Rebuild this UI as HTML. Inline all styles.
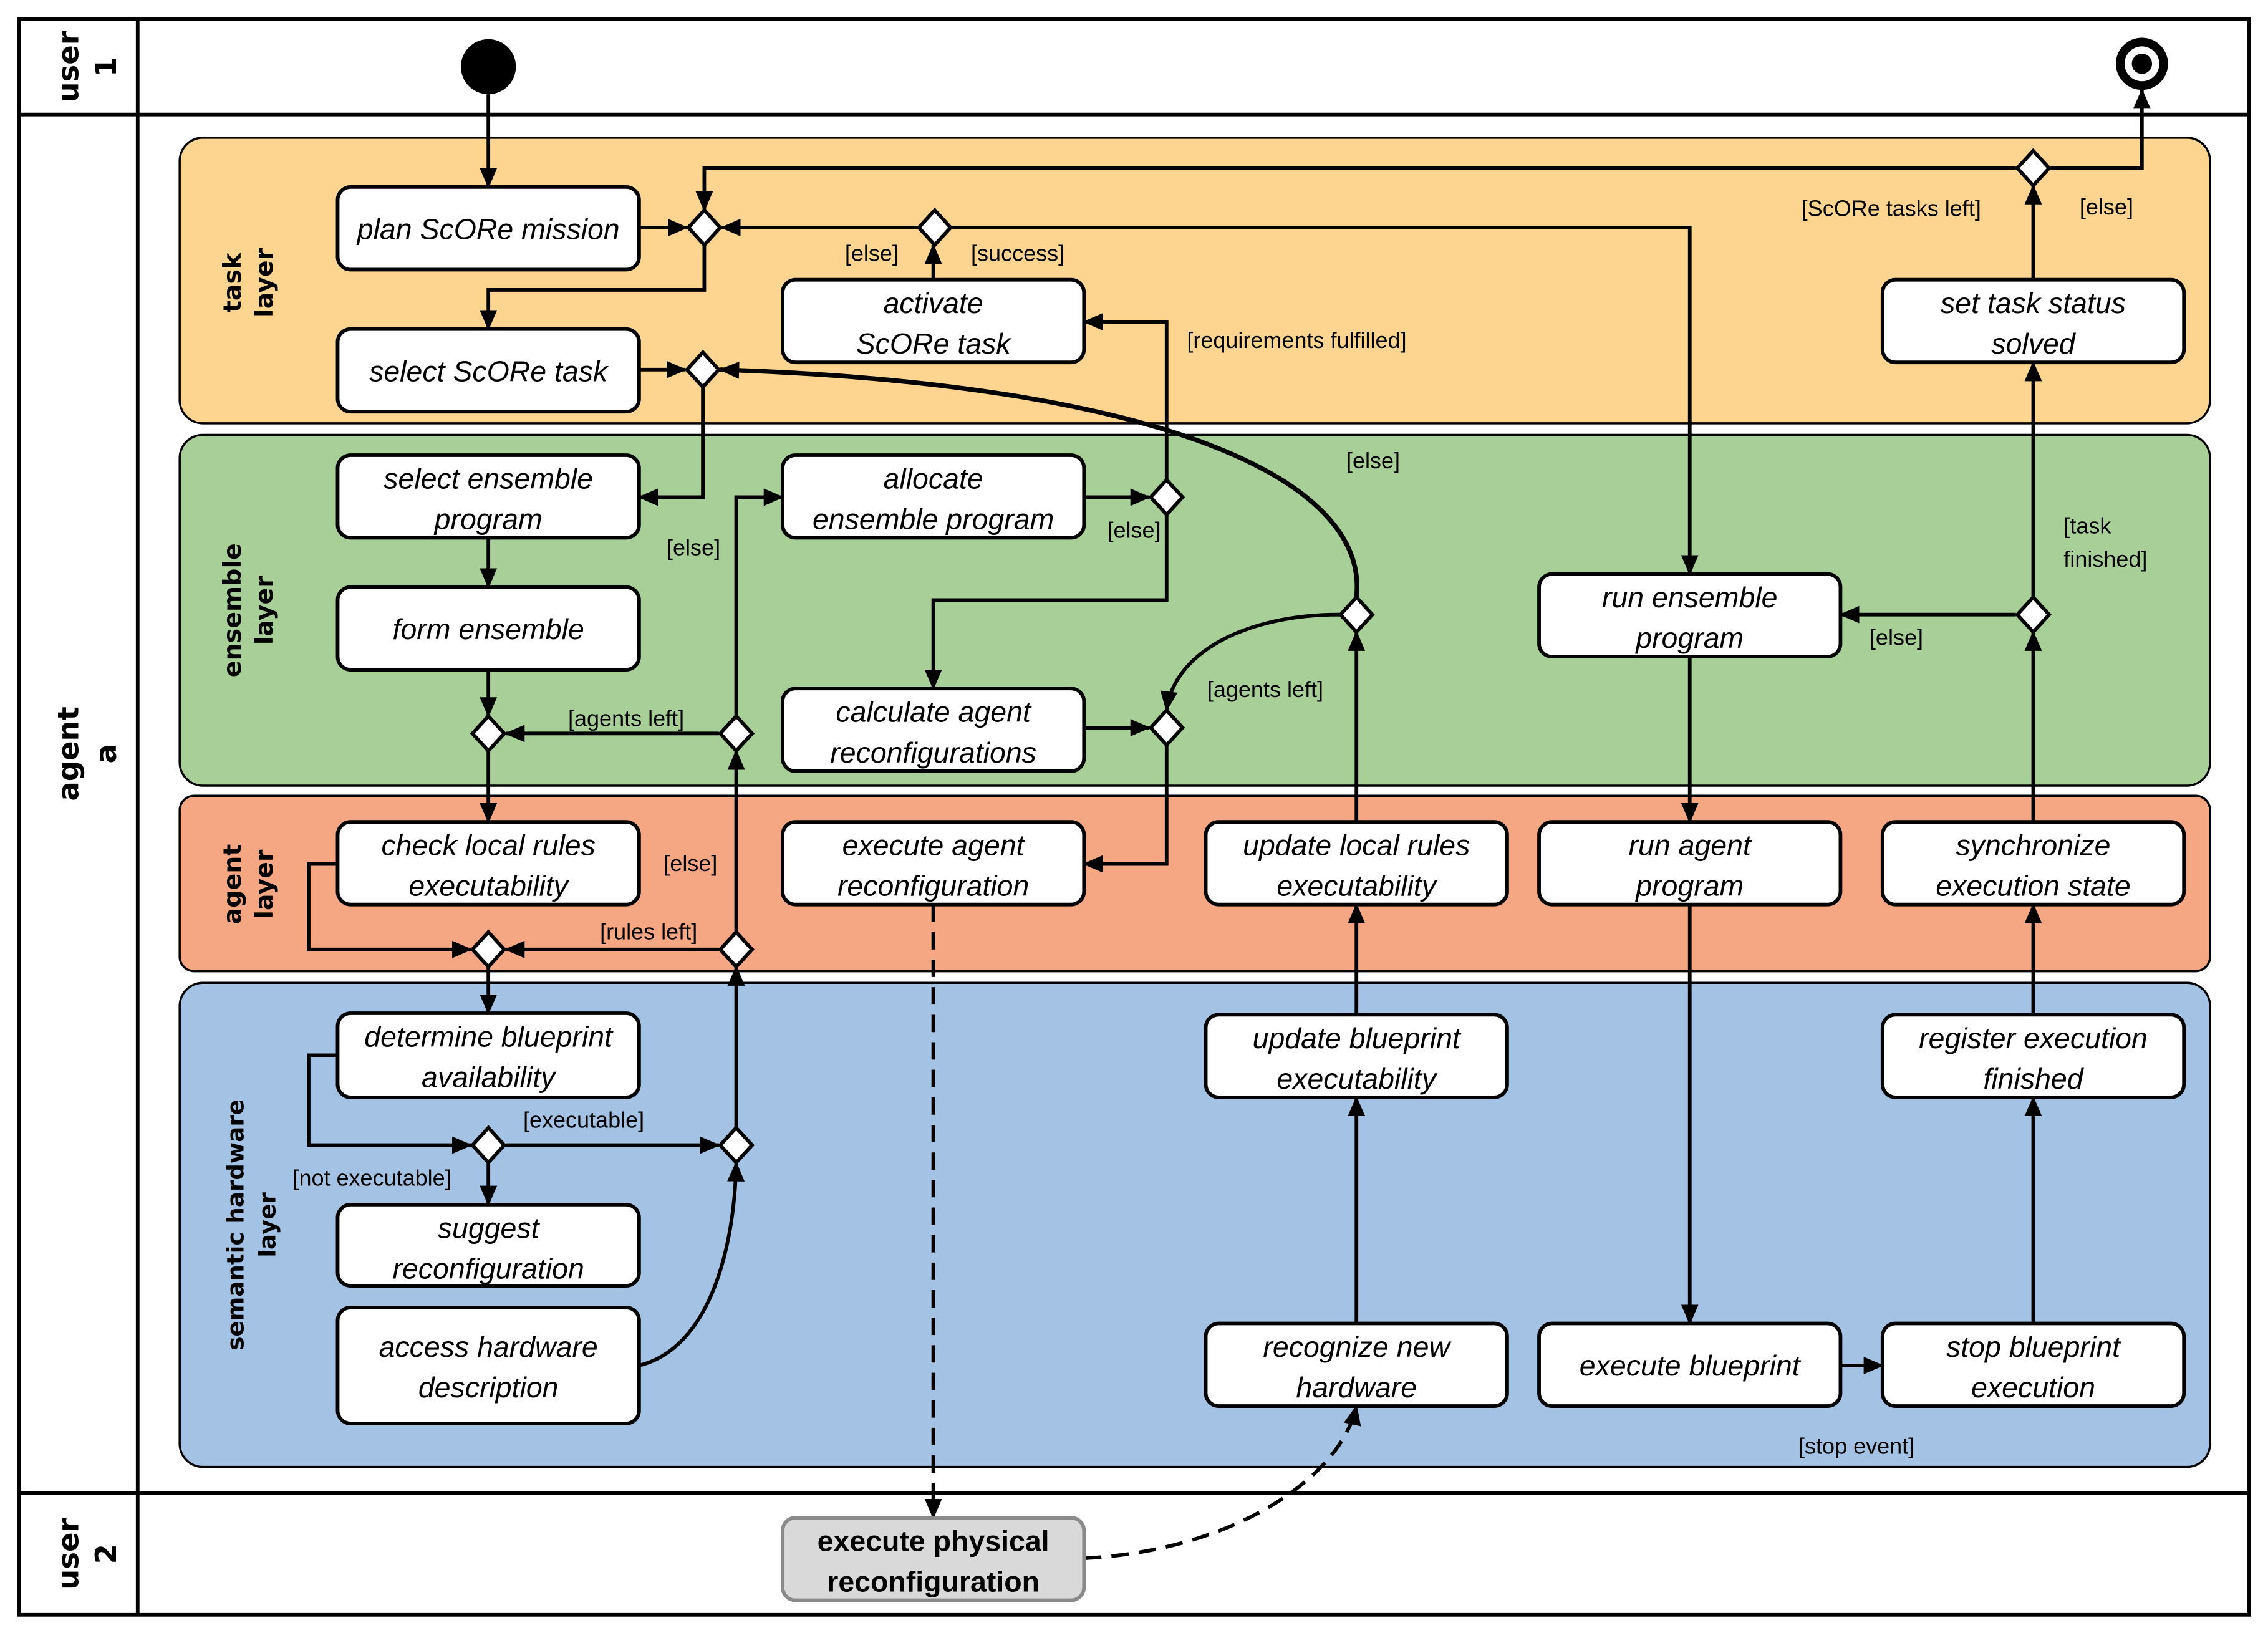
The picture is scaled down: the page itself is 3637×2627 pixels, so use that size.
<!DOCTYPE html>
<html><head><meta charset="utf-8"><style>
html,body{margin:0;padding:0;background:#fff}
svg{display:block}
.n{fill:#fff;stroke:#000;stroke-width:2.5}
.t{font-family:"Liberation Sans",sans-serif;font-style:italic;font-size:20px;text-anchor:middle}
.l{font-family:"Liberation Sans",sans-serif;font-size:15.5px}
.e{fill:none;stroke:#000;stroke-width:2.5;marker-end:url(#a)}
.d{fill:#fff;stroke:#000;stroke-width:2.5}
.h{font-family:"DejaVu Sans","Liberation Sans",sans-serif;font-weight:bold;font-size:20px;text-anchor:middle}
.y{font-family:"DejaVu Sans","Liberation Sans",sans-serif;font-weight:bold;font-size:17px;text-anchor:middle}
</style></head><body>
<svg width="3637" height="2627" viewBox="0 0 1565 1130" preserveAspectRatio="none" xmlns="http://www.w3.org/2000/svg">
<defs><marker id="a" markerUnits="userSpaceOnUse" markerWidth="14" markerHeight="12" refX="13" refY="6" orient="auto"><path d="M0,0 L14,6 L0,12 z" fill="#000"/></marker></defs>
<rect x="0" y="0" width="1565" height="1130" fill="#fff"/>
<rect x="13" y="13" width="1539" height="1101" fill="none" stroke="#000" stroke-width="2.5"/>
<line x1="95" y1="13" x2="95" y2="1114" stroke="#000" stroke-width="2.5"/>
<line x1="13" y1="79" x2="1552" y2="79" stroke="#000" stroke-width="2.5"/>
<line x1="13" y1="1030" x2="1552" y2="1030" stroke="#000" stroke-width="2.5"/>
<g transform="translate(54,46) rotate(-90)"><text class="h" x="0" y="0">user</text><text class="h" x="0" y="26">1</text></g>
<g transform="translate(54,520) rotate(-90)"><text class="h" x="0" y="0">agent</text><text class="h" x="0" y="26">a</text></g>
<g transform="translate(54,1072) rotate(-90)"><text class="h" x="0" y="0">user</text><text class="h" x="0" y="26">2</text></g>
<rect x="124" y="95" width="1401" height="197" rx="16" fill="#fdd590" stroke="#000" stroke-width="1.5"/>
<rect x="124" y="300" width="1401" height="242" rx="16" fill="#a9cf98" stroke="#000" stroke-width="1.5"/>
<rect x="124" y="549" width="1401" height="121" rx="10" fill="#f5a683" stroke="#000" stroke-width="1.5"/>
<rect x="124" y="678" width="1401" height="334" rx="16" fill="#a4c2e4" stroke="#000" stroke-width="1.5"/>
<g transform="translate(166,195) rotate(-90)"><text class="y" x="0" y="0">task</text><text class="y" x="0" y="22">layer</text></g>
<g transform="translate(166,421) rotate(-90)"><text class="y" x="0" y="0">ensemble</text><text class="y" x="0" y="22">layer</text></g>
<g transform="translate(166,610) rotate(-90)"><text class="y" x="0" y="0">agent</text><text class="y" x="0" y="22">layer</text></g>
<g transform="translate(168,845) rotate(-90)"><text class="y" x="0" y="0" style="font-size:16px">semantic hardware</text><text class="y" x="0" y="22" style="font-size:16px">layer</text></g>
<circle cx="337" cy="46" r="19" fill="#000"/>
<circle cx="1478" cy="44" r="18" fill="#000"/><circle cx="1478" cy="44" r="12" fill="#fff"/><circle cx="1478" cy="44" r="7" fill="#000"/>
<g>
<path class="e" d="M337,65 L337,129"/>
<path class="e" d="M441,157 L474,157"/>
<path class="e" d="M486,169 L486,200 L337,200 L337,227"/>
<path class="e" d="M633,157 L498,157"/>
<path class="e" d="M644,193 L644,169"/>
<path class="e" d="M1391,116 L486,116 L486,145"/>
<path class="e" d="M1415,116 L1478,116 L1478,62"/>
<path class="e" d="M1403,193 L1403,128"/>
<path class="e" d="M657,157 L1166,157 L1166,396"/>
<path class="e" d="M441,255 L473,255"/>
<path class="e" d="M936,412 C945,330 800,265 497,255" style="stroke-width:3.2"/>
<path class="e" d="M485,267 L485,343 L441,343"/>
<path class="e" d="M337,371 L337,405"/>
<path class="e" d="M337,462 L337,494"/>
<path class="e" d="M496,506 L349,506"/>
<path class="e" d="M337,518 L337,567"/>
<path class="e" d="M508,494 L508,343 L540,343"/>
<path class="e" d="M748,343 L793,343"/>
<path class="e" d="M805,331 L805,222 L748,222"/>
<path class="e" d="M805,355 L805,414 L644,414 L644,475"/>
<path class="e" d="M748,502 L793,502"/>
<path class="e" d="M924,424 C860,424 810,450 805,490"/>
<path class="e" d="M805,514 L805,596 L748,596"/>
<path class="e" d="M644,624 L644,1047" style="stroke-dasharray:12,7"/>
<path class="e" d="M748,1075 C850,1070 925,1020 936,970" style="stroke-dasharray:12,7"/>
<path class="e" d="M233,596 L213,596 L213,655 L325,655"/>
<path class="e" d="M496,655 L349,655"/>
<path class="e" d="M337,667 L337,699"/>
<path class="e" d="M508,643 L508,518"/>
<path class="e" d="M233,728 L213,728 L213,790 L325,790"/>
<path class="e" d="M349,790 L496,790"/>
<path class="e" d="M337,802 L337,831"/>
<path class="e" d="M508,778 L508,667"/>
<path class="e" d="M441,942 C490,930 507,860 508,802"/>
<path class="e" d="M936,913 L936,757"/>
<path class="e" d="M936,700 L936,624"/>
<path class="e" d="M936,567 L936,436"/>
<path class="e" d="M1166,453 L1166,567"/>
<path class="e" d="M1166,624 L1166,913"/>
<path class="e" d="M1270,942 L1299,942"/>
<path class="e" d="M1403,913 L1403,757"/>
<path class="e" d="M1403,700 L1403,624"/>
<path class="e" d="M1403,567 L1403,436"/>
<path class="e" d="M1391,424 L1270,424"/>
<path class="e" d="M1403,412 L1403,250"/>
</g>
<g>
<path class="d" d="M486,145 L497,157 L486,169 L475,157 z"/>
<path class="d" d="M645,145 L656,157 L645,169 L634,157 z"/>
<path class="d" d="M485,243 L496,255 L485,267 L474,255 z"/>
<path class="d" d="M1403,104 L1414,116 L1403,128 L1392,116 z"/>
<path class="d" d="M805,331 L816,343 L805,355 L794,343 z"/>
<path class="d" d="M936,412 L947,424 L936,436 L925,424 z"/>
<path class="d" d="M1403,412 L1414,424 L1403,436 L1392,424 z"/>
<path class="d" d="M337,494 L348,506 L337,518 L326,506 z"/>
<path class="d" d="M508,494 L519,506 L508,518 L497,506 z"/>
<path class="d" d="M805,490 L816,502 L805,514 L794,502 z"/>
<path class="d" d="M337,643 L348,655 L337,667 L326,655 z"/>
<path class="d" d="M508,643 L519,655 L508,667 L497,655 z"/>
<path class="d" d="M337,778 L348,790 L337,802 L326,790 z"/>
<path class="d" d="M508,778 L519,790 L508,802 L497,790 z"/>
</g>
<g>
<rect class="n" x="233" y="129" width="208" height="57" rx="9"/><text class="t" x="337" y="165">plan ScORe mission</text>
<rect class="n" x="233" y="227" width="208" height="57" rx="9"/><text class="t" x="337" y="263">select ScORe task</text>
<rect class="n" x="233" y="314" width="208" height="57" rx="9"/><text class="t" x="337" y="337">select ensemble</text><text class="t" x="337" y="365">program</text>
<rect class="n" x="233" y="405" width="208" height="57" rx="9"/><text class="t" x="337" y="441">form ensemble</text>
<rect class="n" x="233" y="567" width="208" height="57" rx="9"/><text class="t" x="337" y="590">check local rules</text><text class="t" x="337" y="618">executability</text>
<rect class="n" x="233" y="699" width="208" height="58" rx="9"/><text class="t" x="337" y="722">determine blueprint</text><text class="t" x="337" y="750">availability</text>
<rect class="n" x="233" y="831" width="208" height="56" rx="9"/><text class="t" x="337" y="854">suggest</text><text class="t" x="337" y="882">reconfiguration</text>
<rect class="n" x="233" y="902" width="208" height="80" rx="9"/><text class="t" x="337" y="936">access hardware</text><text class="t" x="337" y="964">description</text>
<rect class="n" x="540" y="193" width="208" height="57" rx="9"/><text class="t" x="644" y="216">activate</text><text class="t" x="644" y="244">ScORe task</text>
<rect class="n" x="540" y="314" width="208" height="57" rx="9"/><text class="t" x="644" y="337">allocate</text><text class="t" x="644" y="365">ensemble program</text>
<rect class="n" x="540" y="475" width="208" height="57" rx="9"/><text class="t" x="644" y="498">calculate agent</text><text class="t" x="644" y="526">reconfigurations</text>
<rect class="n" x="540" y="567" width="208" height="57" rx="9"/><text class="t" x="644" y="590">execute agent</text><text class="t" x="644" y="618">reconfiguration</text>
<rect x="540" y="1047" width="208" height="57" rx="9" fill="#d9d9d9" stroke="#8a8a8a" stroke-width="2.5"/><text class="t" x="644" y="1070" style="font-style:normal;font-weight:bold">execute physical</text><text class="t" x="644" y="1098" style="font-style:normal;font-weight:bold">reconfiguration</text>
<rect class="n" x="832" y="567" width="208" height="57" rx="9"/><text class="t" x="936" y="590">update local rules</text><text class="t" x="936" y="618">executability</text>
<rect class="n" x="832" y="700" width="208" height="57" rx="9"/><text class="t" x="936" y="723">update blueprint</text><text class="t" x="936" y="751">executability</text>
<rect class="n" x="832" y="913" width="208" height="57" rx="9"/><text class="t" x="936" y="936">recognize new</text><text class="t" x="936" y="964">hardware</text>
<rect class="n" x="1062" y="396" width="208" height="57" rx="9"/><text class="t" x="1166" y="419">run ensemble</text><text class="t" x="1166" y="447">program</text>
<rect class="n" x="1062" y="567" width="208" height="57" rx="9"/><text class="t" x="1166" y="590">run agent</text><text class="t" x="1166" y="618">program</text>
<rect class="n" x="1062" y="913" width="208" height="57" rx="9"/><text class="t" x="1166" y="949">execute blueprint</text>
<rect class="n" x="1299" y="193" width="208" height="57" rx="9"/><text class="t" x="1403" y="216">set task status</text><text class="t" x="1403" y="244">solved</text>
<rect class="n" x="1299" y="567" width="208" height="57" rx="9"/><text class="t" x="1403" y="590">synchronize</text><text class="t" x="1403" y="618">execution state</text>
<rect class="n" x="1299" y="700" width="208" height="57" rx="9"/><text class="t" x="1403" y="723">register execution</text><text class="t" x="1403" y="751">finished</text>
<rect class="n" x="1299" y="913" width="208" height="57" rx="9"/><text class="t" x="1403" y="936">stop blueprint</text><text class="t" x="1403" y="964">execution</text>
</g>
<g class="l">
<text x="583" y="180">[else]</text>
<text x="670" y="180">[success]</text>
<text x="1243" y="149">[ScORe tasks left]</text>
<text x="1435" y="148">[else]</text>
<text x="819" y="240">[requirements fulfilled]</text>
<text x="929" y="323">[else]</text>
<text x="460" y="383">[else]</text>
<text x="764" y="371">[else]</text>
<text x="1424" y="368">[task</text>
<text x="1424" y="391">finished]</text>
<text x="1290" y="445">[else]</text>
<text x="392" y="501">[agents left]</text>
<text x="833" y="481">[agents left]</text>
<text x="458" y="601">[else]</text>
<text x="414" y="648">[rules left]</text>
<text x="361" y="778">[executable]</text>
<text x="202" y="818">[not executable]</text>
<text x="1241" y="1003">[stop event]</text>
</g>
</svg>
</body></html>
